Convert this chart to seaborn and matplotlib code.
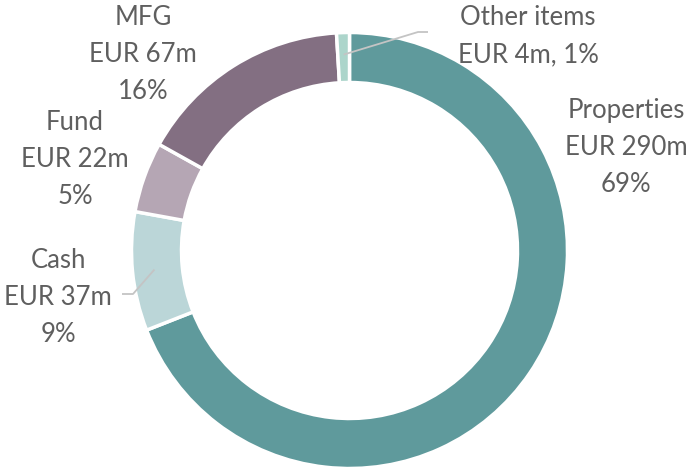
import matplotlib
matplotlib.use("Agg")
import matplotlib.pyplot as plt
import seaborn as sns
import numpy as np

# === data ===
categories = ["Properties", "Cash", "Fund", "MFG", "Other items"]
values_eur_m = [290, 37, 22, 67, 4]
percent_labels = ["69%", "9%", "5%", "16%", "1%"]
colors = ["#5f9a9c", "#bbd6d8", "#b5a6b4", "#836f82", "#acd5cb"]

sns.set_theme(style="white")
plt.rcParams["font.family"] = ["Lato", "DejaVu Sans"]
text_color = "#5f5f5f"
line_color = "#c4c4c4"

W, H = 690, 472
fig = plt.figure(figsize=(W / 100, H / 100), dpi=100)
ax = fig.add_axes([0, 0, 1, 1])

cx, cy, r_out, ring = 349.5, H - 250.5, 218, 50
wedges, _ = ax.pie(values_eur_m, colors=sns.color_palette(colors), startangle=90,
                   counterclock=False, center=(cx, cy), radius=r_out,
                   wedgeprops=dict(width=ring, edgecolor="white", linewidth=2.5),
                   frame=True)
ax.set_xlim(0, W)
ax.set_ylim(0, H)
ax.set_aspect("equal")
ax.axis("off")

# === labels (x centre, first baseline from top) ===
label_pos = {
    "Properties": (626, 118),
    "Cash": (58, 268),
    "Fund": (75, 130),
    "MFG": (143, 25),
    "Other items": (528, 25),
}
step = 37
fs = 18.5
for cat, val, pct in zip(categories, values_eur_m, percent_labels):
    x, y0 = label_pos[cat]
    if cat == "Other items":
        lines = [cat, f"EUR {val}m, {pct}"]
    else:
        lines = [cat, f"EUR {val}m", pct]
    for i, s in enumerate(lines):
        ax.text(x, H - (y0 + i * step), s, ha="center", va="baseline",
                fontsize=fs, color=text_color)

# === leader lines for the thin slices ===
def mid_point(w, r):
    a = np.deg2rad((w.theta1 + w.theta2) / 2)
    return cx + r * np.cos(a), cy + r * np.sin(a)

leaders = {"Other items": [(418, 32), (428, 32)], "Cash": [(133, 294), (122, 294)]}
for cat, pts in leaders.items():
    w = wedges[categories.index(cat)]
    sx, sy = mid_point(w, r_out - ring / 2 + 3)
    xs = [sx] + [p[0] for p in pts]
    ys = [sy] + [H - p[1] for p in pts]
    ax.plot(xs, ys, color=line_color, lw=1.3, solid_capstyle="butt")

fig.savefig("out.png", dpi=100)
